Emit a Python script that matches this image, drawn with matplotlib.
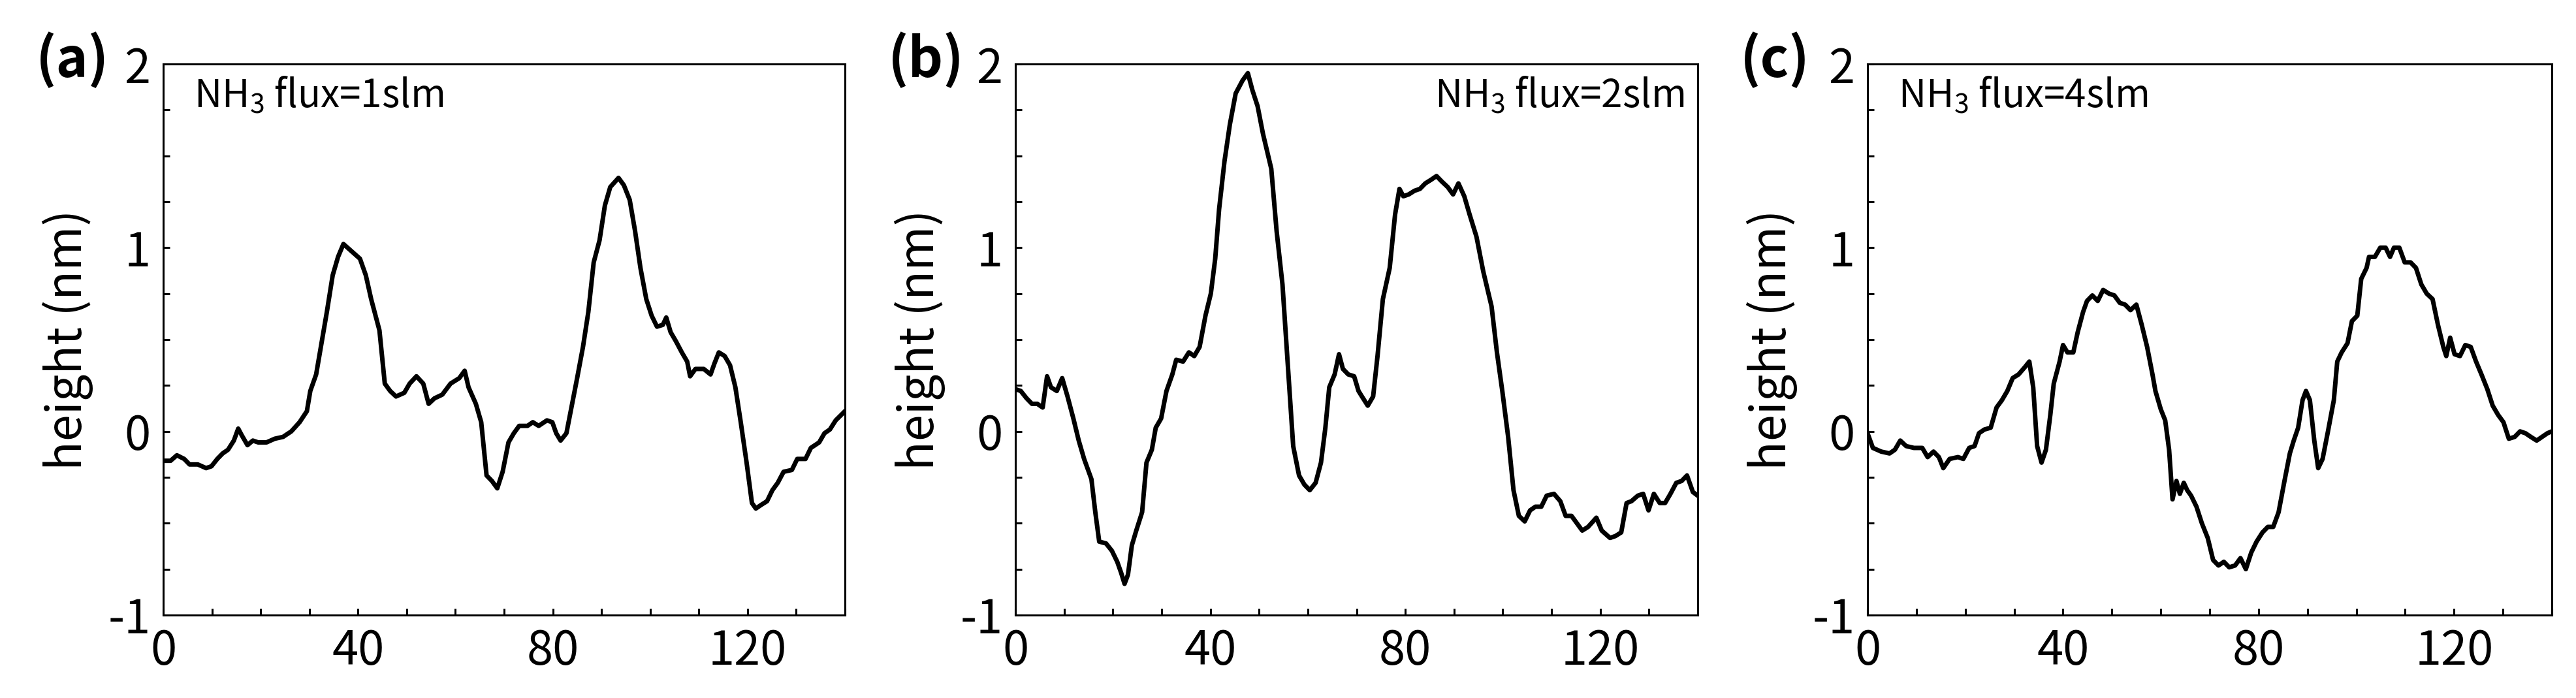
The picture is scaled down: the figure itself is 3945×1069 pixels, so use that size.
import matplotlib
matplotlib.use("Agg")
import matplotlib.pyplot as plt
from matplotlib.ticker import MultipleLocator, FixedLocator

plt.rcParams['font.family'] = ['Noto Sans CJK KR', 'DejaVu Sans']

# ---------------- data ----------------
xa = [0, 1.5, 2.8, 4.3, 5.4, 7.1, 8.8, 9.9, 11.1, 12.2, 13.3, 14.5, 15.4, 16.1, 17.3, 18.4, 19.5, 21.2, 22.9, 24.6,
      26.3, 28.0, 29.5, 30.2, 31.4, 32.5, 33.6, 34.8, 35.9, 37.0, 38.7, 40.4, 41.6, 42.7, 44.4, 45.5, 46.6, 47.8, 49.5,
      50.6, 52.0, 53.4, 54.5, 55.7, 57.3, 59.0, 60.8, 61.9, 62.7, 64.2, 65.3, 66.4, 67.5, 68.6, 69.7, 70.9, 72.0, 73.1,
      74.8, 75.9, 77.1, 78.8, 79.9, 80.7, 81.6, 82.8, 83.9, 85.0, 86.2, 87.3, 88.4, 89.6, 90.7, 91.8, 93.5, 94.6, 95.8,
      96.9, 98.0, 99.2, 100.3, 101.4, 102.6, 103.3, 104.2, 105.3, 106.5, 107.6, 108.2, 109.3, 111.0, 112.4, 113.2,
      114.1, 115.3, 116.4, 117.5, 118.6, 119.8, 120.9, 121.7, 122.8, 124.0, 125.1, 126.2, 127.4, 129.1, 130.2, 131.9,
      133.0, 134.7, 135.8, 136.9, 138.1, 140.0]
ya = [-0.16, -0.16, -0.13, -0.15, -0.18, -0.18, -0.20, -0.19, -0.15, -0.12, -0.10, -0.05, 0.015, -0.02, -0.075, -0.05,
      -0.06, -0.06, -0.04, -0.03, 0.00, 0.05, 0.11, 0.22, 0.31, 0.48, 0.65, 0.85, 0.95, 1.02, 0.98, 0.94, 0.85, 0.72,
      0.55, 0.26, 0.22, 0.19, 0.21, 0.26, 0.30, 0.26, 0.15, 0.18, 0.20, 0.26, 0.29, 0.33, 0.24, 0.15, 0.05, -0.24,
      -0.27, -0.31, -0.22, -0.06, -0.01, 0.03, 0.03, 0.05, 0.03, 0.06, 0.05, -0.01, -0.05, -0.01, 0.14, 0.29, 0.46,
      0.65, 0.92, 1.04, 1.23, 1.33, 1.38, 1.34, 1.26, 1.09, 0.89, 0.72, 0.63, 0.57, 0.58, 0.62, 0.54, 0.49, 0.43,
      0.38, 0.30, 0.34, 0.34, 0.31, 0.37, 0.43, 0.41, 0.36, 0.24, 0.05, -0.17, -0.39, -0.42, -0.40, -0.38, -0.32,
      -0.28, -0.22, -0.21, -0.15, -0.15, -0.09, -0.06, -0.01, 0.01, 0.06, 0.11]

xb = [0, 1.1, 2.3, 3.4, 4.5, 5.6, 6.5, 7.3, 8.5, 9.6, 10.7, 11.9, 13.0, 14.1, 15.6, 16.4, 17.2, 18.6, 19.8, 20.9,
      21.7, 22.4, 23.1, 23.9, 24.8, 26.0, 26.9, 28.0, 28.8, 29.9, 31.0, 32.2, 33.0, 34.4, 35.6, 36.7, 37.8, 39.0,
      40.1, 41.0, 41.8, 42.9, 44.0, 45.2, 46.6, 47.7, 48.6, 49.7, 50.8, 52.5, 53.6, 54.8, 55.9, 57.0, 58.2, 59.3,
      60.4, 61.6, 62.7, 63.6, 64.4, 65.5, 66.4, 67.2, 68.3, 69.5, 70.4, 71.1, 72.3, 73.4, 74.3, 75.4, 76.8, 77.9,
      78.8, 79.6, 80.7, 81.9, 83.0, 84.1, 85.3, 86.4, 87.5, 88.7, 89.8, 90.9, 92.1, 93.2, 94.6, 96.0, 97.7, 98.8,
      99.9, 101.1, 102.2, 103.3, 104.5, 105.6, 106.7, 107.9, 109.0, 110.5, 111.8, 112.9, 114.1, 115.2, 116.3,
      117.5, 119.2, 120.3, 122.0, 123.1, 124.3, 125.4, 126.4, 127.7, 128.8, 129.9, 131.0, 132.2, 133.3, 134.4,
      135.6, 136.7, 137.8, 139.0, 140.0]
yb = [0.23, 0.22, 0.18, 0.15, 0.15, 0.13, 0.30, 0.24, 0.22, 0.29, 0.19, 0.07, -0.05, -0.15, -0.26, -0.44, -0.60,
      -0.61, -0.65, -0.71, -0.77, -0.83, -0.78, -0.62, -0.54, -0.44, -0.17, -0.10, 0.02, 0.07, 0.22, 0.31, 0.39,
      0.38, 0.43, 0.41, 0.46, 0.63, 0.75, 0.94, 1.21, 1.47, 1.67, 1.84, 1.91, 1.95, 1.86, 1.77, 1.62, 1.43, 1.09,
      0.80, 0.36, -0.08, -0.24, -0.29, -0.32, -0.28, -0.17, 0.02, 0.24, 0.31, 0.42, 0.34, 0.31, 0.30, 0.22, 0.19,
      0.14, 0.19, 0.41, 0.72, 0.89, 1.18, 1.32, 1.28, 1.29, 1.31, 1.32, 1.35, 1.37, 1.39, 1.36, 1.33, 1.29, 1.35,
      1.28, 1.18, 1.06, 0.87, 0.68, 0.43, 0.22, -0.03, -0.32, -0.46, -0.49, -0.43, -0.41, -0.41, -0.35, -0.34,
      -0.38, -0.46, -0.46, -0.50, -0.54, -0.52, -0.47, -0.54, -0.58, -0.57, -0.55, -0.39, -0.38, -0.35, -0.34,
      -0.43, -0.34, -0.39, -0.39, -0.34, -0.28, -0.27, -0.24, -0.33, -0.35]

xc = [0, 1.1, 2.8, 4.5, 5.6, 6.7, 7.9, 9.5, 11.2, 12.3, 13.5, 14.6, 15.5, 16.8, 18.5, 19.6, 20.8, 21.9, 22.8, 23.9,
      25.2, 26.4, 27.5, 28.6, 29.7, 30.9, 32.2, 33.1, 33.9, 34.7, 35.6, 36.5, 37.4, 38.1, 39.3, 40.0, 40.9, 42.1,
      43.0, 44.1, 44.9, 46.0, 47.1, 48.2, 49.4, 50.5, 51.6, 52.7, 53.8, 55.0, 56.1, 57.2, 58.3, 58.9, 60.0, 60.9,
      61.7, 62.4, 63.2, 63.9, 64.7, 65.4, 66.2, 67.3, 68.4, 69.6, 70.7, 71.8, 72.9, 74.0, 75.2, 76.3, 77.4, 78.5,
      79.6, 80.8, 81.9, 83.0, 84.1, 85.3, 86.4, 87.2, 88.1, 89.0, 89.7, 90.5, 91.4, 92.2, 93.1, 94.2, 95.4, 96.1,
      97.0, 98.2, 99.1, 100.2, 101.0, 102.1, 102.6, 103.8, 104.9, 106.0, 106.9, 107.7, 108.8, 109.9, 111.1, 112.2,
      113.3, 114.4, 115.6, 116.7, 117.8, 118.4, 119.2, 120.1, 121.2, 122.3, 123.4, 124.5, 125.6, 126.8, 127.9,
      129.0, 130.1, 131.2, 132.4, 133.5, 134.6, 135.7, 136.9, 138.0, 139.1, 140.0]
yc = [-0.01, -0.09, -0.11, -0.12, -0.10, -0.05, -0.08, -0.09, -0.09, -0.14, -0.11, -0.14, -0.20, -0.15, -0.14, -0.15,
      -0.09, -0.08, -0.01, 0.01, 0.02, 0.13, 0.17, 0.22, 0.29, 0.31, 0.35, 0.38, 0.24, -0.08, -0.17, -0.10, 0.09,
      0.26, 0.38, 0.47, 0.43, 0.43, 0.54, 0.65, 0.71, 0.74, 0.71, 0.77, 0.75, 0.74, 0.70, 0.69, 0.66, 0.69, 0.58,
      0.46, 0.31, 0.22, 0.12, 0.06, -0.10, -0.37, -0.27, -0.34, -0.28, -0.32, -0.35, -0.41, -0.50, -0.58, -0.70,
      -0.73, -0.71, -0.74, -0.73, -0.69, -0.75, -0.66, -0.60, -0.55, -0.52, -0.52, -0.44, -0.27, -0.12, -0.05,
      0.02, 0.17, 0.22, 0.17, -0.05, -0.20, -0.15, 0.00, 0.17, 0.38, 0.43, 0.48, 0.60, 0.63, 0.83, 0.89, 0.95, 0.95,
      1.00, 1.00, 0.95, 1.00, 1.00, 0.92, 0.92, 0.89, 0.80, 0.75, 0.72, 0.58, 0.46, 0.41, 0.51, 0.42, 0.41, 0.47,
      0.46, 0.38, 0.31, 0.23, 0.14, 0.09, 0.05, -0.04, -0.03, 0.00, -0.01, -0.03, -0.05, -0.03, -0.01, 0.00]

panel_labels = ['(a)', '(b)', '(c)']
flux_labels = [r'NH$_\mathregular{3}$ flux=1slm', r'NH$_\mathregular{3}$ flux=2slm', r'NH$_\mathregular{3}$ flux=4slm']
xticks = [0, 40, 80, 120]
yticks = [-1, 0, 1, 2]
ytick_labels = ['-1', '0', '1', '2']
ylabel = 'height (nm)'

# ---------------- layout ----------------
W, H = 3945, 1069
fig = plt.figure(figsize=(W / 100, H / 100), dpi=100)
lefts = [250, 1555, 2860]
widths = [1044, 1045, 1048]
top, bottom = 98, 942

series = [(xa, ya), (xb, yb), (xc, yc)]
for i, ((x, y), left, w) in enumerate(zip(series, lefts, widths)):
    ax = fig.add_axes([left / W, 1 - bottom / H, w / W, (bottom - top) / H])
    ax.plot(x, y, color='black', lw=5.0, solid_joinstyle='round')
    ax.set_xlim(0, 140)
    ax.set_ylim(-1, 2)
    ax.xaxis.set_major_locator(FixedLocator(xticks))
    ax.xaxis.set_minor_locator(MultipleLocator(10))
    ax.yaxis.set_major_locator(FixedLocator(yticks))
    ax.set_yticklabels(ytick_labels)
    ax.yaxis.set_minor_locator(MultipleLocator(0.25))
    ax.tick_params(which='both', direction='in', length=7.5, width=2.2, top=False, right=False)
    ax.tick_params(which='major', labelsize=52, pad=14)
    for s in ax.spines.values():
        s.set_linewidth(2.2)
    ax.set_ylabel(ylabel, fontsize=53, labelpad=16)
    if i == 1:
        ax.text(0.98, 0.922, flux_labels[i], transform=ax.transAxes, ha='right', va='baseline', fontsize=42)
    else:
        ax.text(0.045, 0.922, flux_labels[i], transform=ax.transAxes, ha='left', va='baseline', fontsize=42)
    fig.text((left - 195) / W, 1 - 93 / H, panel_labels[i], fontsize=60, fontweight='bold',
             ha='left', va='center')

fig.savefig('out.png', dpi=100)
